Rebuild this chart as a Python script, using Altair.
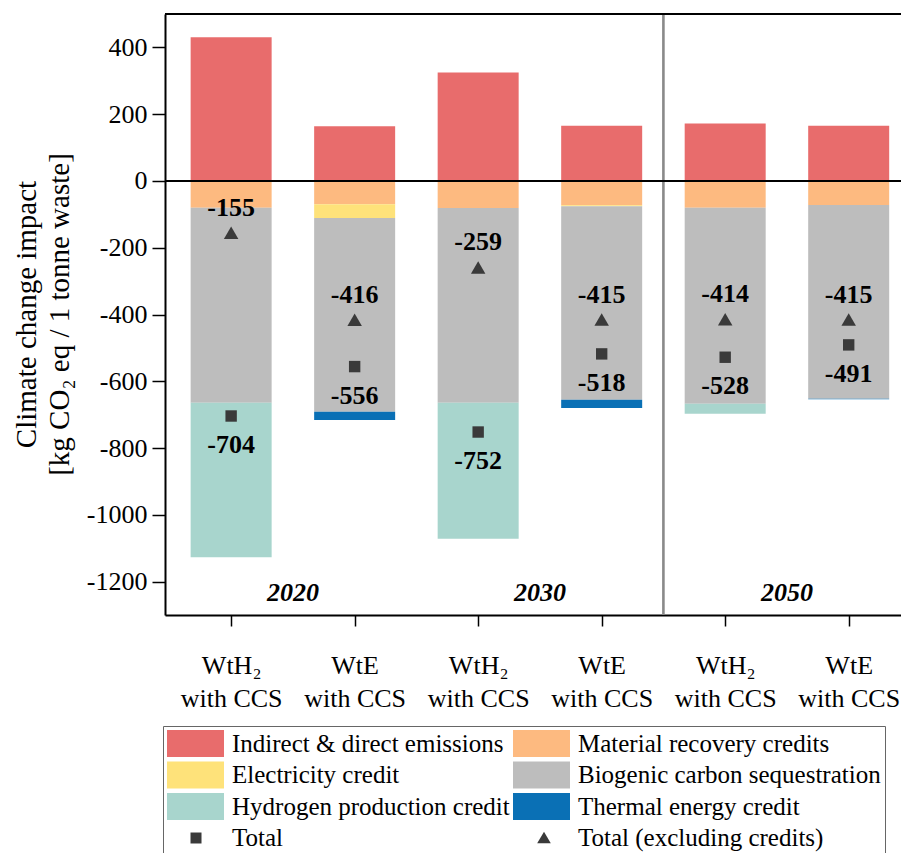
import json
import altair as alt
import pandas as pd

# ---------------- data ----------------
x_labels = ["WtH₂|with CCS", "WtE|with CCS", "WtH₂|with CCS",
            "WtE|with CCS", "WtH₂|with CCS", "WtE|with CCS"]
years = ["2020", "2030", "2050"]

components = ["Indirect & direct emissions", "Material recovery credits",
              "Electricity credit", "Biogenic carbon sequestration",
              "Hydrogen production credit", "Thermal energy credit"]
emissions = [430, 164, 325, 165, 172, 165]
material = [-80, -70, -81, -73, -80, -72]
electricity = [0, -41, 0, -3, 0, 0]
biogenic = [-584, -580, -583, -579, -587, -580]
hydrogen = [-463, 0, -408, 0, -30, 0]
thermal = [0, -25, 0, -25, 0, -2]

total = [-704, -556, -752, -518, -528, -491]
total_excl = [-155, -416, -259, -415, -414, -415]

marker_names = ["Total", "Total (excluding credits)"]

comp_colors = ["#E86C6C", "#FDBA80", "#FEE27A", "#BDBDBD", "#A8D5CD", "#0A70B5"]
marker_color = "#3A3A3A"

# ---------------- frames ----------------
series_values = [emissions, material, electricity, biogenic, hydrogen, thermal]
rows = []
for ci, (name, vals) in enumerate(zip(components, series_values)):
    for i, v in enumerate(vals):
        if v != 0:
            rows.append({"pos": i, "series": name, "order": ci, "value": v})
bars_df = pd.DataFrame(rows)

tot_df = pd.DataFrame({"pos": list(range(len(total))), "total": total,
                       "excl": total_excl,
                       "total_lbl": [str(v) for v in total],
                       "excl_lbl": [str(v) for v in total_excl]})

year_df = pd.DataFrame({"year": years,
                        "pos": [(2 * k + 2 * k + 1) / 2 for k in range(len(years))]})

sep_pos = (3 + 4) / 2

# ---------------- scales / legend ----------------
FONT = "Liberation Serif"
all_names = components + marker_names
all_colors = comp_colors + [marker_color, marker_color]
rect_path = "M-1,-1L3.222,-1L3.222,1L-1,1Z"
all_shapes = [rect_path] * 6 + [
    "M0.741,-0.407L1.556,-0.407L1.556,0.407L0.741,0.407Z",
    "M1.296,-0.46L1.8,0.39L0.79,0.39Z"]

# legend is filled column by column: reorder so rows read pairwise
n_rows = 4
leg_idx = [r * 2 + c for c in range(2) for r in range(n_rows)]
domain_all = [all_names[i] for i in leg_idx]
color_scale = alt.Scale(domain=domain_all, range=[all_colors[i] for i in leg_idx])
shape_scale = alt.Scale(domain=domain_all, range=[all_shapes[i] for i in leg_idx])

legend = alt.Legend(title=None, orient="none", legendX=-2, legendY=712,
                    columns=2, columnPadding=3, rowPadding=4.5,
                    labelOffset=38, symbolSize=729, symbolStrokeWidth=0,
                    labelFontSize=25, labelFont=FONT, labelColor="black",
                    labelLimit=400, strokeColor="#666", padding=4,
                    fillColor="white")

x_scale = alt.Scale(domain=[-0.495, 5.383], nice=False, zero=False)
y_scale = alt.Scale(domain=[-1300, 500], nice=False, zero=False)

label_expr = "split(" + json.dumps(x_labels, ensure_ascii=False) + "[datum.value], '|')"

x_axis = alt.Axis(values=list(range(len(x_labels))), labelExpr=label_expr,
                  title=None, grid=False, tickSize=11, tickWidth=1.5,
                  tickColor="black", domainColor="black", domainWidth=2,
                  labelFontSize=26, labelFont=FONT, labelColor="black",
                  labelLineHeight=33, labelBaseline="top", labelPadding=26,
                  labelOverlap=False, labelFlush=False)

y_axis = alt.Axis(values=list(range(-1200, 401, 100)),
                  labelExpr="datum.value % 200 === 0 ? '' + datum.value : ''",
                  title=["Climate change impact", "[kg CO₂ eq / 1 tonne waste]"],
                  titleFontSize=29, titleFont=FONT, titleFontWeight="normal",
                  titleColor="black", titleLineHeight=33, titleX=-124, titleY=300,
                  grid=False,
                  tickSize={"condition": {"test": "datum.value % 200 === 0", "value": 13}, "value": 8},
                  tickWidth=1.5, tickColor="black", domainColor="black",
                  domainWidth=2, labelFontSize=26, labelFont=FONT,
                  labelColor="black", labelPadding=5, labelOverlap=False)

# ---------------- layers ----------------
bars = alt.Chart(bars_df).mark_bar(size=81).encode(
    x=alt.X("pos:Q", scale=x_scale, axis=x_axis),
    y=alt.Y("value:Q", stack="zero", scale=y_scale, axis=y_axis),
    color=alt.Color("series:N", scale=color_scale, legend=legend),
    order=alt.Order("order:Q"),
)

legend_layer = alt.Chart(alt.Data(values=[])).mark_point(filled=True, opacity=1).encode(
    color=alt.Color("series:N", scale=color_scale, legend=legend),
    shape=alt.Shape("series:N", scale=shape_scale, legend=legend),
)

zero_rule = alt.Chart(tot_df).mark_rule(color="black", strokeWidth=2).encode(y=alt.datum(0))
top_rule = alt.Chart(tot_df).mark_rule(color="black", strokeWidth=2).encode(y=alt.datum(500))
sep_rule = alt.Chart(tot_df).mark_rule(color="#8A8A8A", strokeWidth=1.5).encode(x=alt.datum(sep_pos))

squares = alt.Chart(tot_df).mark_point(shape="square", filled=True, opacity=1,
                                       size=130, color=marker_color).encode(
    x="pos:Q", y="total:Q")
triangles = alt.Chart(tot_df).mark_point(shape="triangle-up", filled=True, opacity=1,
                                         size=210, color=marker_color).encode(
    x="pos:Q", y="excl:Q")

sq_text = alt.Chart(tot_df).mark_text(dy=29, font=FONT, fontSize=26, fontWeight="bold",
                                      color="black", baseline="middle").encode(
    x="pos:Q", y="total:Q", text="total_lbl:N")
tri_text = alt.Chart(tot_df).mark_text(dy=-25, font=FONT, fontSize=26, fontWeight="bold",
                                       color="black", baseline="middle").encode(
    x="pos:Q", y="excl:Q", text="excl_lbl:N")

year_text = alt.Chart(year_df).mark_text(font=FONT, fontSize=26, fontWeight="bold",
                                         fontStyle="italic", color="black",
                                         baseline="middle").encode(
    x="pos:Q", y=alt.value(579), text="year:N")

chart = alt.layer(
    bars, legend_layer, sep_rule, zero_rule, top_rule,
    squares, triangles, sq_text, tri_text, year_text
).properties(
    width=736, height=601,
    autosize=alt.AutoSizeParams(type="none"),
    padding={"left": 157, "top": 6, "right": 0, "bottom": 238},
).configure_view(stroke=None).configure(background="white")

chart.save("out.html", embed_options={"renderer": "svg", "actions": False})
